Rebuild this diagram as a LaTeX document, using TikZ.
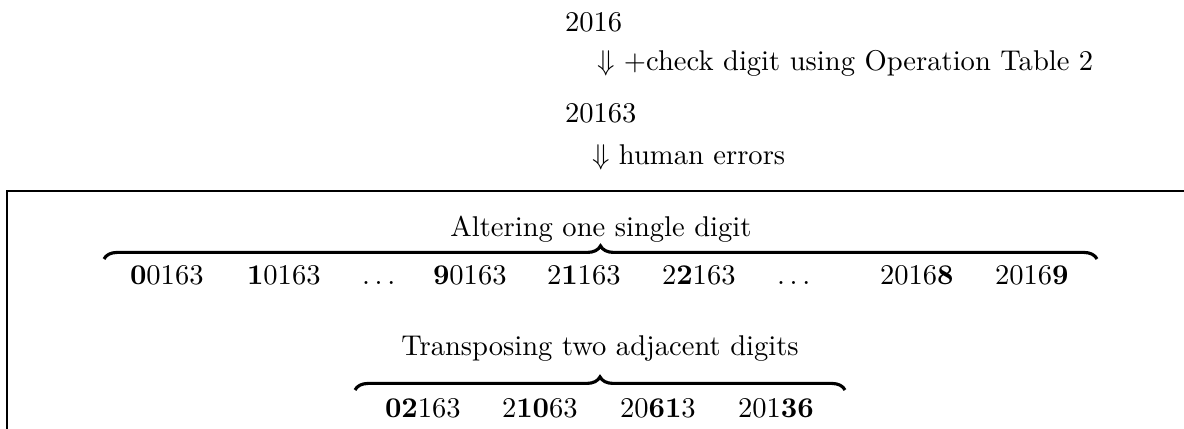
\documentclass[tikz,border=0pt]{standalone}
\usetikzlibrary{decorations.pathreplacing}
\begin{document}
\begin{tikzpicture}[x=0.35pt,y=-0.35pt,
  txt/.style={anchor=base west,inner sep=0pt,outer sep=0pt},
  lbl/.style={anchor=base,inner sep=0pt,outer sep=0pt},
  frame/.style={line width=0.4pt},
  bracestyle/.style={decorate,decoration={brace,amplitude=4.6pt},line width=1.1pt}]
\useasboundingbox (0,0) rectangle (1184,429);
% top chain
\node[txt] (n2016) at (565,32) {2016};
\node[txt] (a1) at (597,71) {$\Downarrow$ +check digit using Operation Table 2};
\node[txt] (n20163) at (565,123) {20163};
\node[txt] (a2) at (592,165) {$\Downarrow$ human errors};
% frame
\coordinate (fr) at (1184,191);
\coordinate (fc) at (7,191);
\coordinate (fb) at (7,429);
\draw[frame] (fr) -- (fc) -- (fb);
% altering
\node[lbl] (l1) at (601,237) {Altering one single digit};
\coordinate (b1l) at (104,259);
\coordinate (b1r) at (1097,259);
\draw[bracestyle] (b1l) -- (b1r);
\node[txt] (i1) at (130,285) {\textbf{0}0163};
\node[txt] (i2) at (247,285) {\textbf{1}0163};
\node[txt] (i3) at (362,285) {$\ldots$};
\node[txt] (i4) at (433,285) {\textbf{9}0163};
\node[txt] (i5) at (547,285) {2\textbf{1}163};
\node[txt] (i6) at (662,285) {2\textbf{2}163};
\node[txt] (i7) at (777,285) {$\ldots$};
\node[txt] (i8) at (880,285) {2016\textbf{8}};
\node[txt] (i9) at (995,285) {2016\textbf{9}};
% transposing
\node[lbl] (l2) at (600,356) {Transposing two adjacent digits};
\coordinate (b2l) at (355,390);
\coordinate (b2r) at (845,390);
\draw[bracestyle] (b2l) -- (b2r);
\node[txt] (t1) at (385,418) {\textbf{02}163};
\node[txt] (t2) at (502,418) {2\textbf{10}63};
\node[txt] (t3) at (620,418) {20\textbf{61}3};
\node[txt] (t4) at (738,418) {201\textbf{36}};
\end{tikzpicture}
\end{document}
